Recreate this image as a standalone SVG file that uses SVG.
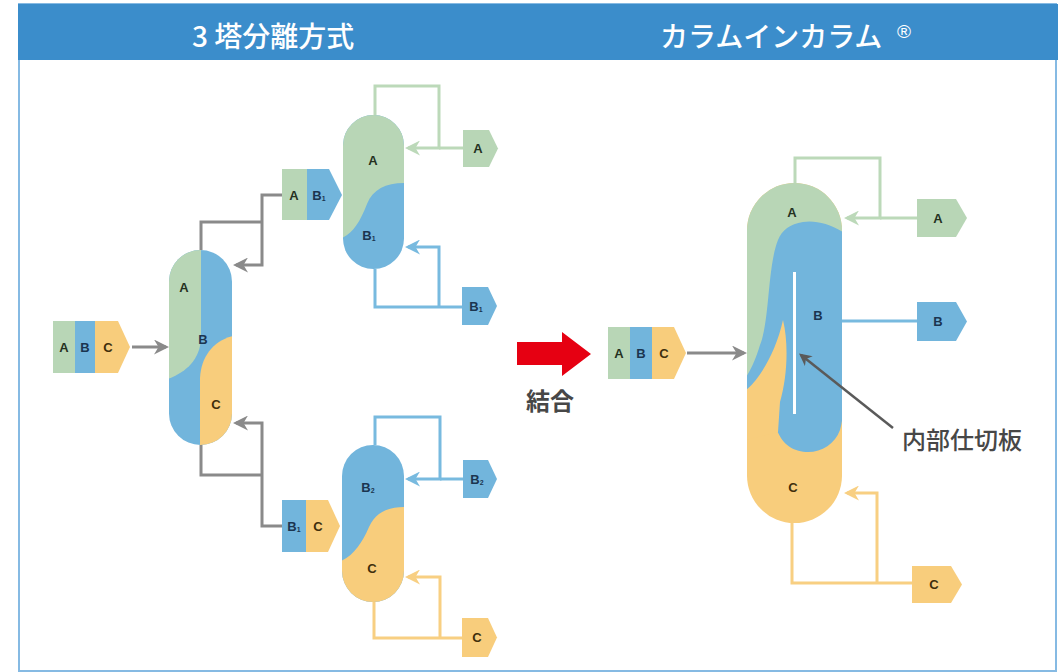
<svg xmlns="http://www.w3.org/2000/svg" width="1058" height="672" viewBox="0 0 1058 672">
  <style>
    .hdr { font-family: "Noto Sans CJK JP", "Noto Sans", sans-serif; font-size: 28px; font-weight: 500; fill: #ffffff; }
    .reg { font-family: "Liberation Sans", Arial, sans-serif; font-size: 19px; }
    .jp { font-family: "Noto Sans CJK JP", "Noto Sans", sans-serif; fill: #474747; }
    .lbl { font-family: "Liberation Sans", Arial, sans-serif; font-size: 13px; font-weight: bold; text-anchor: middle; }
    .la { fill: #25321f; }
    .lb { fill: #1b3550; }
    .lc { fill: #3f2f0c; }
    .sub { font-size: 7px; }
    .g { fill: #b8d6b6; }
    .b { fill: #72b5dc; }
    .o { fill: #f8cd7c; }
    .ln { fill: none; stroke-width: 3; }
    .lg { stroke: #bcd9b9; }
    .lbu { stroke: #78badf; }
    .lo { stroke: #f8cf82; }
    .lgr { stroke: #8a8a8a; }
  </style>
  <defs>
    <marker id="ah-gray" viewBox="0 0 10 10" refX="8" refY="5" markerWidth="5" markerHeight="5" orient="auto" markerUnits="strokeWidth">
      <path d="M0,0 L10,5 L0,10 L3,5 z" fill="#8a8a8a"/>
    </marker>
    <marker id="ah-green" viewBox="0 0 10 10" refX="8" refY="5" markerWidth="5" markerHeight="5" orient="auto" markerUnits="strokeWidth">
      <path d="M0,0 L10,5 L0,10 L3,5 z" fill="#bcd9b9"/>
    </marker>
    <marker id="ah-blue" viewBox="0 0 10 10" refX="8" refY="5" markerWidth="5" markerHeight="5" orient="auto" markerUnits="strokeWidth">
      <path d="M0,0 L10,5 L0,10 L3,5 z" fill="#78badf"/>
    </marker>
    <marker id="ah-orange" viewBox="0 0 10 10" refX="8" refY="5" markerWidth="5" markerHeight="5" orient="auto" markerUnits="strokeWidth">
      <path d="M0,0 L10,5 L0,10 L3,5 z" fill="#f8cf82"/>
    </marker>
    <marker id="ah-dark" viewBox="0 0 10 10" refX="8" refY="5" markerWidth="5" markerHeight="5" orient="auto" markerUnits="strokeWidth">
      <path d="M0,0 L10,5 L0,10 L3,5 z" fill="#5a5a5a"/>
    </marker>
    <clipPath id="clip-c1"><rect x="169" y="250" width="63" height="195" rx="31.5"/></clipPath>
    <clipPath id="clip-c2"><rect x="343" y="115" width="61" height="154" rx="30.5"/></clipPath>
    <clipPath id="clip-c3"><rect x="342" y="445" width="62" height="157" rx="31"/></clipPath>
    <clipPath id="clip-c4"><rect x="747" y="183" width="95" height="340" rx="47.5"/></clipPath>
  </defs>

  <!-- frame and header bar -->
  <rect x="0" y="0" width="1058" height="672" fill="#ffffff"/>
  <rect x="19" y="4" width="1037" height="667" fill="#ffffff" stroke="#86bae3" stroke-width="2"/>
  <rect x="18" y="4" width="1040" height="56" fill="#3b8dcb"/>
  <text class="hdr" x="192" y="47">3 塔分離方式</text>
  <text class="hdr" x="660" y="47">カラムインカラム</text>
  <text class="hdr reg" x="897" y="38">®</text>

  <!-- connectors -->
  <g id="connectors">
    <!-- feed to first column -->
    <path class="ln lgr" d="M132 347 H166" marker-end="url(#ah-gray)"/>
    <!-- first column overhead -->
    <path class="ln lgr" d="M201 250 V222 H262"/>
    <path class="ln lgr" d="M283 195 H262 V265 H236" marker-end="url(#ah-gray)"/>
    <!-- first column bottoms -->
    <path class="ln lgr" d="M201 445 V475 H262"/>
    <path class="ln lgr" d="M283 526 H262 V423 H236" marker-end="url(#ah-gray)"/>
    <!-- upper column -->
    <path class="ln lg" d="M375 115 V86 H439 V148 H408" marker-end="url(#ah-green)"/>
    <path class="ln lg" d="M463 148 H439"/>
    <path class="ln lbu" d="M375 269 V307 H463"/>
    <path class="ln lbu" d="M439 307 V247 H408" marker-end="url(#ah-blue)"/>
    <!-- lower column -->
    <path class="ln lbu" d="M375 445 V417 H440 V479 H408" marker-end="url(#ah-blue)"/>
    <path class="ln lbu" d="M463 479 H440"/>
    <path class="ln lo" d="M374 602 V638 H463"/>
    <path class="ln lo" d="M440 638 V577 H408" marker-end="url(#ah-orange)"/>
    <!-- divided-wall column -->
    <path class="ln lgr" d="M687 353 H744" marker-end="url(#ah-gray)"/>
    <path class="ln lg" d="M795 183 V158 H880 V218 H847" marker-end="url(#ah-green)"/>
    <path class="ln lg" d="M917 218 H880"/>
    <path class="ln lbu" d="M842 321 H917"/>
    <path class="ln lo" d="M792 523 V583 H912"/>
    <path class="ln lo" d="M877 583 V493 H847" marker-end="url(#ah-orange)"/>
  </g>

  <!-- feed A/B/C (left) -->
  <g id="feed-abc-1">
    <rect class="g" x="53" y="321" width="22" height="52"/>
    <rect class="b" x="75" y="321" width="20" height="52"/>
    <path class="o" d="M95 321 H118 L130 347 L118 373 H95 Z"/>
    <text class="lbl la" x="64" y="352">A</text>
    <text class="lbl lb" x="85" y="352">B</text>
    <text class="lbl lc" x="108" y="352">C</text>
  </g>

  <!-- first column -->
  <g id="column-1">
    <g clip-path="url(#clip-c1)">
      <rect class="b" x="169" y="250" width="63" height="195"/>
      <path class="g" d="M168 249 H201 V338 C200 360 186 372 168 379 Z"/>
      <path class="o" d="M233 336 C213 341 201 357 200 378 V446 H233 Z"/>
    </g>
    <text class="lbl la" x="184" y="292">A</text>
    <text class="lbl lb" x="203" y="344">B</text>
    <text class="lbl lc" x="216" y="409">C</text>
  </g>

  <!-- A + B1 intermediate -->
  <g id="stream-ab1">
    <rect class="g" x="282" y="169" width="25" height="51"/>
    <path class="b" d="M307 169 H329 L342 195 L329 220 H307 Z"/>
    <text class="lbl la" x="294" y="200">A</text>
    <text class="lbl lb" x="319" y="200">B<tspan class="sub" dy="1">1</tspan></text>
  </g>

  <!-- B1 + C intermediate -->
  <g id="stream-b1c">
    <rect class="b" x="282" y="500" width="24" height="52"/>
    <path class="o" d="M306 500 H328 L340 526 L328 552 H306 Z"/>
    <text class="lbl lb" x="294" y="531">B<tspan class="sub" dy="1">1</tspan></text>
    <text class="lbl lc" x="318" y="531">C</text>
  </g>

  <!-- upper column -->
  <g id="column-2">
    <g clip-path="url(#clip-c2)">
      <rect class="b" x="343" y="115" width="61" height="154"/>
      <path class="g" d="M342 114 H405 V183 C386 183 373 189 367 204 C360 222 353 233 342 238 Z"/>
    </g>
    <text class="lbl la" x="373" y="165">A</text>
    <text class="lbl lb" x="369" y="240">B<tspan class="sub" dy="1">1</tspan></text>
  </g>

  <g id="product-a-1">
    <path class="g" d="M463 130 H489 L498 148.5 L489 167 H463 Z"/>
    <text class="lbl la" x="478" y="153">A</text>
  </g>
  <g id="product-b1">
    <path class="b" d="M462 287 H488 L497 306 L488 325 H462 Z"/>
    <text class="lbl lb" x="476" y="311">B<tspan class="sub" dy="1">1</tspan></text>
  </g>

  <!-- lower column -->
  <g id="column-3">
    <g clip-path="url(#clip-c3)">
      <rect class="b" x="342" y="445" width="62" height="157"/>
      <path class="o" d="M405 507 C388 507 376 512 369 527 C362 543 354 555 341 561 V603 H405 Z"/>
    </g>
    <text class="lbl lb" x="368" y="492">B<tspan class="sub" dy="1">2</tspan></text>
    <text class="lbl lc" x="372" y="573">C</text>
  </g>

  <g id="product-b2">
    <path class="b" d="M463 460 H488 L497 479 L488 498 H463 Z"/>
    <text class="lbl lb" x="477" y="484">B<tspan class="sub" dy="1">2</tspan></text>
  </g>
  <g id="product-c-1">
    <path class="o" d="M462 618 H488 L497 637.5 L488 657 H462 Z"/>
    <text class="lbl lc" x="477" y="642">C</text>
  </g>

  <!-- combine arrow -->
  <g id="combine">
    <path d="M517 342 H562 V332 L591 354 L562 376 V365 H517 Z" fill="#e60012"/>
    <text class="jp" x="550" y="410" font-size="24" font-weight="bold" text-anchor="middle" fill="#555555">結合</text>
  </g>

  <!-- feed A/B/C (right) -->
  <g id="feed-abc-2">
    <rect class="g" x="608" y="327" width="22" height="52"/>
    <rect class="b" x="630" y="327" width="22" height="52"/>
    <path class="o" d="M652 327 H674 L686 353 L674 379 H652 Z"/>
    <text class="lbl la" x="619" y="358">A</text>
    <text class="lbl lb" x="641" y="358">B</text>
    <text class="lbl lc" x="664" y="358">C</text>
  </g>

  <!-- divided-wall column -->
  <g id="column-dwc">
    <g clip-path="url(#clip-c4)">
      <rect class="o" x="747" y="183" width="95" height="340"/>
      <path class="g" d="M746 182 H843 V250 H795 L785 300 L770 345 L755 372 L746 380 Z"/>
      <path class="b" d="M843 232 C830 224 815 220 803 222 C790 224 782 230 778 240 C772 255 770 280 768 300 C766 320 764 335 760 345 C756 358 752 368 746 377 V400 H778 L777 430 C783 446 795 452 808 452 C822 452 835 444 840 430 C843 420 843 410 843 400 Z"/>
      <path class="o" d="M745 391 C760 379 776 352 783 320 C789 345 787 378 780 402 L778 432 L745 440 Z"/>
    </g>
    <line x1="794.5" y1="272" x2="794.5" y2="414" stroke="#ffffff" stroke-width="3"/>
    <text class="lbl la" x="792" y="217">A</text>
    <text class="lbl lb" x="818" y="320">B</text>
    <text class="lbl lc" x="793" y="492">C</text>
  </g>

  <g id="product-a-2">
    <path class="g" d="M917 199 H956 L967 218 L956 237 H917 Z"/>
    <text class="lbl la" x="938" y="223">A</text>
  </g>
  <g id="product-b">
    <path class="b" d="M917 302 H956 L967 321.5 L956 341 H917 Z"/>
    <text class="lbl lb" x="938" y="326">B</text>
  </g>
  <g id="product-c-2">
    <path class="o" d="M912 566 H951 L962 584.5 L951 603 H912 Z"/>
    <text class="lbl lc" x="934" y="589">C</text>
  </g>

  <!-- partition call-out -->
  <g id="partition-label">
    <path d="M893 428 L801 355" fill="none" stroke="#5a5a5a" stroke-width="2.5" marker-end="url(#ah-dark)"/>
    <text class="jp" x="902" y="449" font-size="24" font-weight="500">内部仕切板</text>
  </g>
</svg>
